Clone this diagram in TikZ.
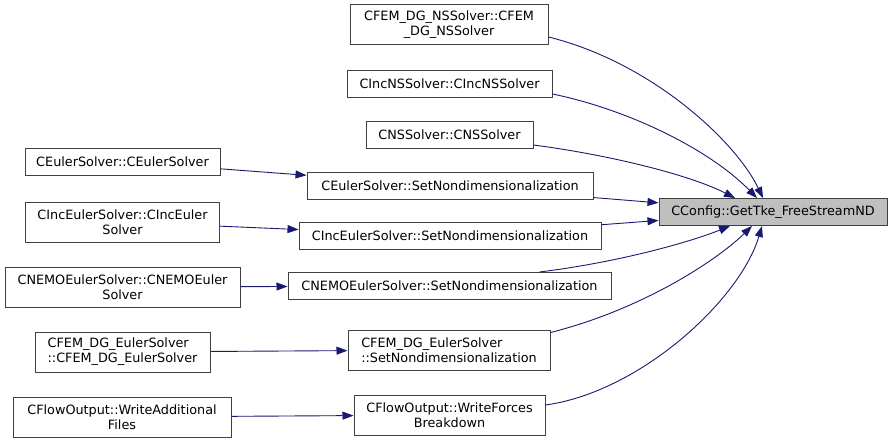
\documentclass[tikz,border=0pt]{standalone}
\usepackage{fontspec}
\setmainfont{DejaVu Sans}
\usetikzlibrary{arrows.meta,calc}
\definecolor{edgeblue}{HTML}{191970}
\definecolor{curgray}{HTML}{BFBFBF}
\definecolor{boxline}{HTML}{404040}

\begin{document}
\begin{tikzpicture}[x=1pt,y=-1pt,
  font=\fontsize{12.8}{15}\selectfont,
  fn/.style={draw=boxline,line width=1pt,fill=white,align=center,inner sep=0pt,minimum height=27pt},
  fn2/.style={fn,minimum height=40pt},
  fnl/.style={fn2,align=left},
  cur/.style={fn,fill=curgray},
  call/.style={-{Triangle[length=11pt,width=8pt]},edgeblue,line width=0.9pt}
]
\useasboundingbox (0,0) rectangle (893,444);
% the function itself
\node[cur,minimum width=228pt] (tgt) at (773,212) {CConfig::GetTke\_FreeStreamND};
% direct callers
\node[fn2,minimum width=198pt] (nsfem) at (449,25) {CFEM\_DG\_NSSolver::CFEM\\\_DG\_NSSolver};
\node[fn,minimum width=205pt] (incns) at (449.5,84) {CIncNSSolver::CIncNSSolver};
\node[fn,minimum width=167pt] (ns) at (449.5,135) {CNSSolver::CNSSolver};
\node[fn,minimum width=286pt] (eulnd) at (450,186) {CEulerSolver::SetNondimensionalization};
\node[fn,minimum width=302pt] (inceulnd) at (450,236) {CIncEulerSolver::SetNondimensionalization};
\node[fn,minimum width=323pt] (nemond) at (449.5,286) {CNEMOEulerSolver::SetNondimensionalization};
\node[fnl,minimum width=202pt] (femnd) at (449,350) {CFEM\_DG\_EulerSolver\\::SetNondimensionalization};
\node[fn2,minimum width=191pt] (forces) at (449.5,415) {CFlowOutput::WriteForces\\Breakdown};
% second level callers
\node[fn,minimum width=195pt] (eul) at (122.5,161.5) {CEulerSolver::CEulerSolver};
\node[fn2,minimum width=194pt] (inceul) at (122.5,222) {CIncEulerSolver::CIncEuler\\Solver};
\node[fn2,minimum width=235pt] (nemo) at (122.5,287) {CNEMOEulerSolver::CNEMOEuler\\Solver};
\node[fnl,minimum width=175pt] (fem) at (122.5,352) {CFEM\_DG\_EulerSolver\\::CFEM\_DG\_EulerSolver};
\node[fn2,minimum width=218pt] (addfiles) at (122,417) {CFlowOutput::WriteAdditional\\Files};

\foreach \a/\b in {eul/eulnd,inceul/inceulnd,nemo/nemond,fem/femnd,addfiles/forces,eulnd/tgt,inceulnd/tgt}
  \draw[call] (\a) -- (\b);

\draw[call] ([yshift=-12pt]nsfem.east) .. controls (650,62) and (735,140) .. ([xshift=-10pt]tgt.north);
\draw[call] ([yshift=-10pt]incns.east) .. controls (630,110) and (710,150) .. ([xshift=-16pt]tgt.north);
\draw[call] ([yshift=-10pt]ns.east) .. controls (610,155) and (690,175) .. ([xshift=-38pt]tgt.north);
\draw[call] ([xshift=90pt]nemond.north) .. controls (620,262) and (690,242) .. ([xshift=-43pt]tgt.south);
\draw[call] ([yshift=-3pt]femnd.north east) .. controls (640,310) and (715,262) .. ([xshift=-21pt]tgt.south);
\draw[call] ([yshift=10pt]forces.east) .. controls (640,392) and (740,300) .. ([xshift=-11pt]tgt.south);
\end{tikzpicture}
\end{document}
